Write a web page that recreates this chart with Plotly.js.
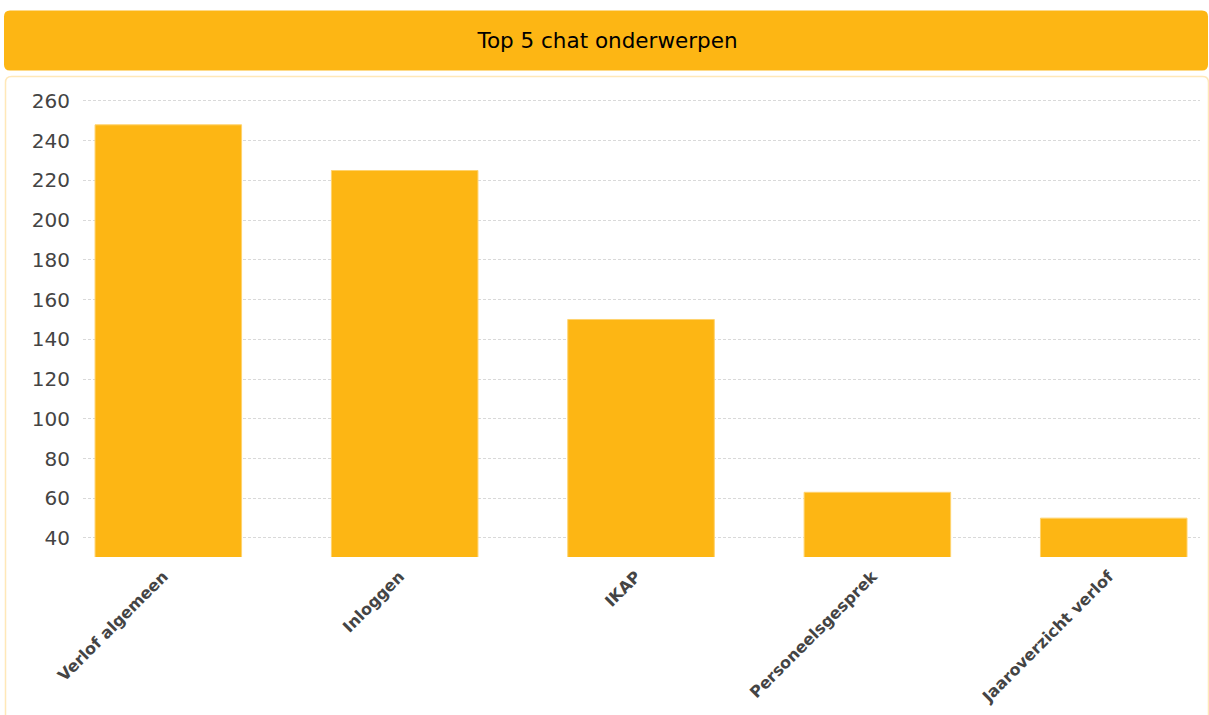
<!DOCTYPE html>
<html>
<head>
<meta charset="utf-8">
<script src="https://cdn.plot.ly/plotly-3.0.1.min.js"></script>
<style>
html,body{margin:0;padding:0;background:#fff;}
#chart{width:1209px;height:715px;}
</style>
</head>
<body>
<div id="chart"></div>
<script>
const categories = ["Verlof algemeen", "Inloggen", "IKAP", "Personeelsgesprek", "Jaaroverzicht verlof"];
const values = [248, 225, 150, 63, 50];
const yTicks = [40, 60, 80, 100, 120, 140, 160, 180, 200, 220, 240, 260];
const chartTitle = "Top 5 chat onderwerpen";

const W = 1209, H = 715;
const M = {l: 83, r: 9, t: 98, b: 158};
const pw = W - M.l - M.r, ph = H - M.t - M.b;
const PX = x => (x - M.l) / pw;
const PY = y => (H - M.b - y) / ph;

function roundRect(x0, y0, x1, y1, r) {
  return "M" + PX(x0 + r) + "," + PY(y0) +
    " L" + PX(x1 - r) + "," + PY(y0) +
    " Q" + PX(x1) + "," + PY(y0) + " " + PX(x1) + "," + PY(y0 + r) +
    " L" + PX(x1) + "," + PY(y1 - r) +
    " Q" + PX(x1) + "," + PY(y1) + " " + PX(x1 - r) + "," + PY(y1) +
    " L" + PX(x0 + r) + "," + PY(y1) +
    " Q" + PX(x0) + "," + PY(y1) + " " + PX(x0) + "," + PY(y1 - r) +
    " L" + PX(x0) + "," + PY(y0 + r) +
    " Q" + PX(x0) + "," + PY(y0) + " " + PX(x0 + r) + "," + PY(y0) + " Z";
}

const orange = "#FDB614";

const trace = {
  type: "bar",
  x: categories,
  y: values,
  marker: {color: orange, line: {color: "#FFD36E", width: 1}},
  hoverinfo: "x+y"
};

const layout = {
  width: W, height: H,
  margin: M,
  paper_bgcolor: "#ffffff",
  plot_bgcolor: "rgba(0,0,0,0)",
  bargap: 0.38,
  showlegend: false,
  font: {family: "DejaVu Sans, Verdana, sans-serif", color: "#444"},
  title: {
    text: chartTitle,
    font: {family: "DejaVu Sans, Verdana, sans-serif", size: 21.5, color: "#000"},
    xref: "container", x: 607.5 / W, xanchor: "center",
    yref: "container", y: 1 - 40 / H, yanchor: "middle"
  },
  xaxis: {
    type: "category",
    range: [-0.361, 4.365],
    tickangle: -45,
    tickfont: {family: "DejaVu Sans, Verdana, sans-serif", size: 16, color: "#444", weight: "bold"},
    showgrid: false,
    zeroline: false,
    showline: false,
    ticks: "",
    ticklabelstandoff: 6,
    ticklabelshift: -5
  },
  yaxis: {
    range: [30.43, 261.5],
    tickvals: yTicks,
    ticktext: yTicks.map(String),
    tickfont: {family: "DejaVu Sans, Verdana, sans-serif", size: 20, color: "#444"},
    showgrid: true,
    gridcolor: "#d9d9d9",
    griddash: "3px,2px",
    gridwidth: 1,
    zeroline: false,
    showline: false,
    ticks: "",
    ticklabelstandoff: 12
  },
  shapes: [
    {type: "path", xref: "paper", yref: "paper", layer: "below",
     path: roundRect(5.5, 76.5, 1208.5, 740, 6),
     fillcolor: "#ffffff", line: {color: "#FFE8B8", width: 1.5}},
    {type: "path", xref: "paper", yref: "paper", layer: "below",
     path: roundRect(4, 10.5, 1208, 70.5, 6),
     fillcolor: orange, line: {width: 0}}
  ]
};

Plotly.newPlot("chart", [trace], layout, {displayModeBar: false});
</script>
</body>
</html>
